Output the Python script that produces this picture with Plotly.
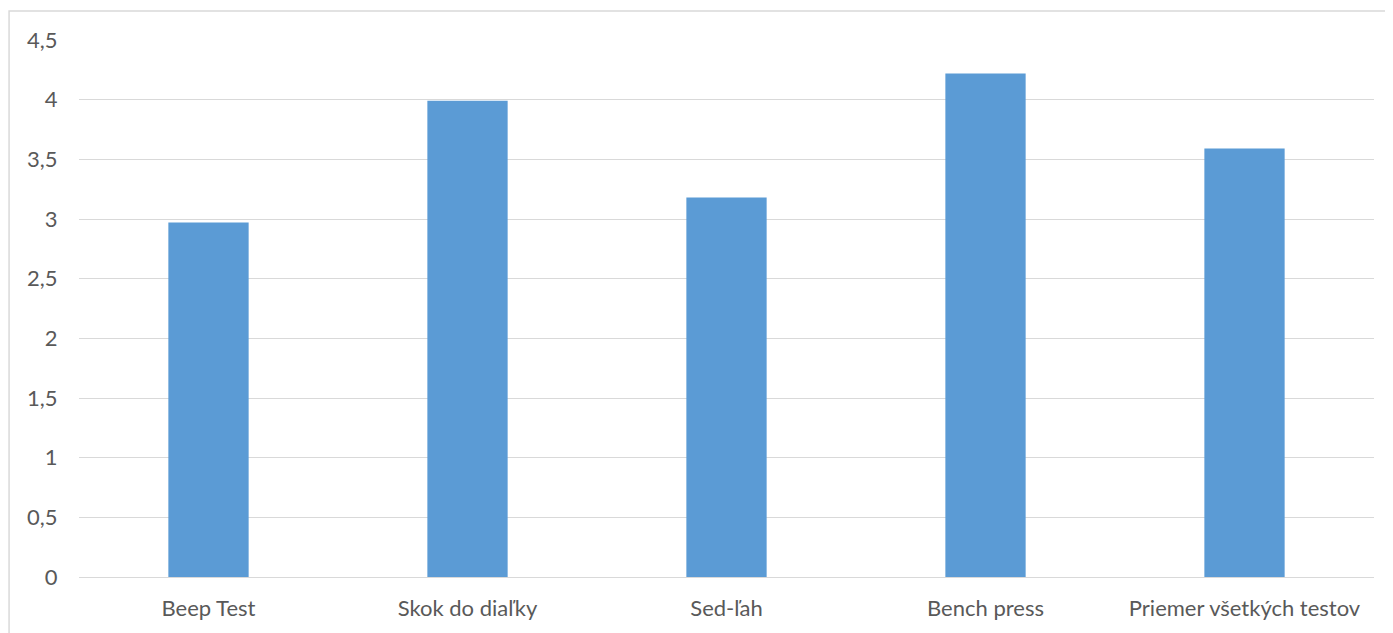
import plotly.graph_objects as go

categories = ["Beep Test", "Skok do diaľky", "Sed-ľah", "Bench press", "Priemer všetkých testov"]
values = [2.97, 3.99, 3.18, 4.22, 3.59]

fig = go.Figure(go.Bar(x=categories, y=values, marker=dict(color="#5b9bd5", line=dict(width=0)), width=0.31))

fig.update_layout(
    width=1385, height=625,
    margin=dict(l=71, r=19, t=32, b=56),
    paper_bgcolor="white", plot_bgcolor="white",
    separators=", ",
    font=dict(family="Lato", size=22, color="#595959"),
    showlegend=False,
    shapes=[dict(type="rect", xref="paper", yref="paper", x0=-0.054, x1=1.2, y0=-0.3, y1=1.054,
                 line=dict(color="#d9d9d9", width=1.5), fillcolor="rgba(0,0,0,0)", layer="below")],
)
fig.update_yaxes(range=[0, 4.5], dtick=0.5, tick0=0, showgrid=True, gridcolor="#d9d9d9", gridwidth=1.3,
                 zeroline=False, showline=False, ticks="outside", ticklen=16, tickcolor="rgba(0,0,0,0)")
fig.update_xaxes(showline=True, linecolor="#d9d9d9", linewidth=1.3, ticks="outside", ticklen=11,
                 tickcolor="rgba(0,0,0,0)", showgrid=False)

fig.write_html("out.html")
